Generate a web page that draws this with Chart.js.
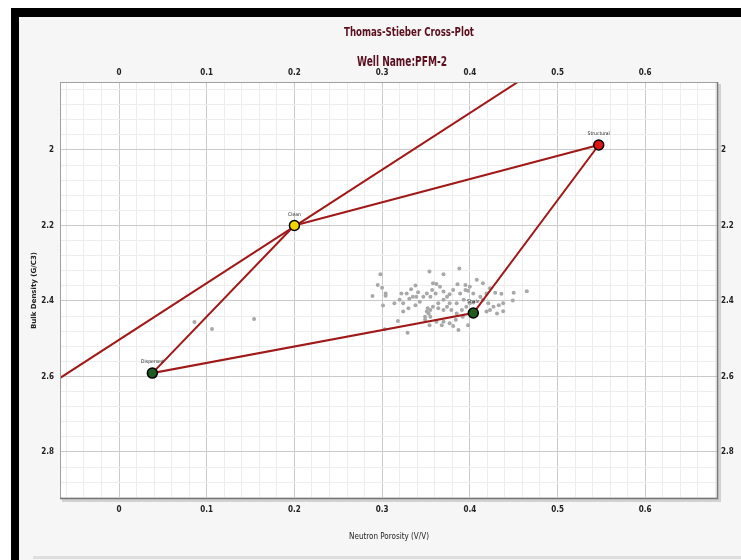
<!DOCTYPE html>
<html>
<head>
<meta charset="utf-8">
<script src="https://cdn.jsdelivr.net/npm/chart.js@4.4.1/dist/chart.umd.min.js"></script>
<style>
  html,body{margin:0;padding:0;background:#fff;}
  #wrap{width:741px;height:560px;position:relative;}
</style>
</head>
<body>
<div id="wrap"><canvas id="c" width="741" height="560"></canvas></div>
<script>
// ---------- data ----------
const xTickLabels = [0, 0.1, 0.2, 0.3, 0.4, 0.5, 0.6];
const yTickLabels = [2, 2.2, 2.4, 2.6, 2.8];

const endpointNames    = ['Clean', 'Structural', 'Shale', 'Dispersed'];
const endpointPorosity = [0.200, 0.547, 0.404, 0.038];
const endpointDensity  = [2.200, 1.987, 2.432, 2.591];
const endpointColors   = ['#f2d400', '#e01414', '#1f5a1f', '#1f5a1f'];

const sandLinePorosity = [-0.100, 0.500];
const sandLineDensity  = [2.653, 1.752];

const samplePorosity = [
  0.298,0.354,0.370,0.388,0.408,0.415,0.295,0.300,0.304,0.304,
  0.289,0.301,0.314,0.324,0.322,0.328,0.333,0.338,0.339,0.341,
  0.335,0.331,0.324,0.318,0.329,0.303,0.358,0.362,0.357,0.351,
  0.355,0.361,0.366,0.370,0.374,0.377,0.381,0.386,0.389,0.395,
  0.398,0.393,0.385,0.377,0.370,0.364,0.358,0.355,0.351,0.349,
  0.355,0.364,0.370,0.374,0.379,0.385,0.391,0.396,0.400,0.404,
  0.392,0.384,0.377,0.370,0.362,0.354,0.368,0.381,0.387,0.398,
  0.419,0.423,0.429,0.436,0.450,0.465,0.449,0.438,0.433,0.427,
  0.423,0.419,0.431,0.438,0.421,0.415,0.412,0.404,0.400,0.395,
  0.352,0.353,0.349,0.320,0.330,0.338,0.343,0.347,
  0.086,0.106,0.154
];
const sampleDensity = [
  2.329,2.322,2.329,2.314,2.344,2.353,2.358,2.365,2.380,2.386,
  2.387,2.412,2.406,2.406,2.380,2.380,2.369,2.359,2.389,2.377,
  2.389,2.394,2.428,2.453,2.484,2.475,2.353,2.355,2.371,2.380,
  2.389,2.380,2.362,2.375,2.389,2.382,2.371,2.356,2.380,2.371,
  2.373,2.397,2.406,2.406,2.397,2.406,2.415,2.424,2.428,2.442,
  2.442,2.419,2.424,2.415,2.424,2.433,2.424,2.415,2.406,2.404,
  2.442,2.450,2.459,2.455,2.455,2.464,2.464,2.466,2.477,2.464,
  2.380,2.366,2.378,2.381,2.378,2.374,2.399,2.406,2.411,2.415,
  2.424,2.428,2.433,2.427,2.406,2.397,2.389,2.380,2.362,2.358,
  2.419,2.433,2.450,2.397,2.419,2.411,2.402,2.389,
  2.456,2.474,2.448
];

const titleText = 'Thomas-Stieber Cross-Plot';
const subtitleText = 'Well Name:PFM-2';
const xTitle = 'Neutron Porosity (V/V)';
const yTitle = 'Bulk Density (G/C3)';

// ---------- helpers ----------
const X_MIN = -0.0673, X_MAX = 0.683;
const Y_MIN = 1.820,  Y_MAX = 2.9245;
const tickFont = { family: "'Liberation Sans Narrow','DejaVu Sans Condensed',sans-serif", size: 8, weight: 'bold' };
const near = (a, b) => Math.abs(a - b) < 1e-6;
const isMajorX = v => xTickLabels.some(t => near(t, v));
const isMajorY = v => yTickLabels.some(t => near(t, v));
function gridValues(min, max, perUnit) {
  const out = [];
  for (let k = Math.ceil(min * perUnit); k <= Math.floor(max * perUnit); k++) out.push({ value: k / perUnit });
  return out;
}
const fmt = v => String(Math.round(v * 1000) / 1000);

function fitText(ctx, text, cx, cy, font, width) {
  ctx.save();
  ctx.font = font;
  const w = ctx.measureText(text).width;
  const s = Math.min(1, width / w);
  ctx.translate(cx, cy);
  ctx.scale(s, 1);
  ctx.fillText(text, 0, 0);
  ctx.restore();
}

const samples = samplePorosity.map((p, i) => ({ x: p, y: sampleDensity[i] }));
const polyIdx = [0, 1, 2, 3, 0];
const polygon = polyIdx.map(i => ({ x: endpointPorosity[i], y: endpointDensity[i] }));
const sandLine = sandLinePorosity.map((p, i) => ({ x: p, y: sandLineDensity[i] }));
const endpoints = endpointPorosity.map((p, i) => ({ x: p, y: endpointDensity[i] }));

// ---------- plugin for frame, titles, labels ----------
const decor = {
  id: 'decor',
  beforeDraw(chart) {
    const ctx = chart.ctx, a = chart.chartArea;
    ctx.save();
    ctx.fillStyle = '#ffffff'; ctx.fillRect(0, 0, 741, 560);
    ctx.fillStyle = '#f6f6f6'; ctx.fillRect(19, 17, 722, 543);
    ctx.fillStyle = '#000000'; ctx.fillRect(11, 8, 730, 9); ctx.fillRect(11, 8, 8, 552);
    ctx.fillStyle = '#dedede'; ctx.fillRect(33, 556, 708, 3);
    ctx.fillStyle = '#d2d2d2'; ctx.fillRect(a.left + 2, a.top + 2, a.width + 1, a.height + 1);
    ctx.fillStyle = '#ffffff'; ctx.fillRect(a.left, a.top, a.width, a.height);
    ctx.restore();
  },
  afterDatasetsDraw(chart) {
    const ctx = chart.ctx, xs = chart.scales.x, ys = chart.scales.y;
    ctx.save();
    ctx.font = "5px 'DejaVu Sans Condensed',sans-serif";
    ctx.fillStyle = '#222';
    ctx.textAlign = 'center';
    ctx.textBaseline = 'middle';
    endpointNames.forEach((n, i) => {
      ctx.fillText(n, xs.getPixelForValue(endpointPorosity[i]), ys.getPixelForValue(endpointDensity[i]) - 11);
    });
    ctx.restore();
  },
  afterDraw(chart) {
    const ctx = chart.ctx, a = chart.chartArea;
    ctx.save();
    // plot border
    ctx.strokeStyle = '#a0a0a0'; ctx.lineWidth = 1;
    ctx.strokeRect(a.left + 0.5, a.top + 0.5, a.width - 1, a.height - 1);
    ctx.strokeStyle = '#777'; ctx.lineWidth = 1.5;
    ctx.beginPath(); ctx.moveTo(a.right - 0.5, a.top); ctx.lineTo(a.right - 0.5, a.bottom - 0.5); ctx.lineTo(a.left, a.bottom - 0.5); ctx.stroke();
    // titles
    ctx.fillStyle = '#5a0f1f'; ctx.textAlign = 'center'; ctx.textBaseline = 'middle';
    fitText(ctx, titleText, 409, 33, "bold 13px 'DejaVu Sans Condensed',sans-serif", 130);
    fitText(ctx, subtitleText, 402, 62, "bold 14px 'DejaVu Sans Condensed',sans-serif", 90);
    // axis titles
    ctx.fillStyle = '#222';
    ctx.font = "8px 'Liberation Sans Narrow','DejaVu Sans Condensed',sans-serif";
    ctx.fillText(xTitle, (a.left + a.right) / 2, 537);
    ctx.translate(34, (a.top + a.bottom) / 2); ctx.rotate(-Math.PI / 2);
    ctx.font = "bold 7px 'DejaVu Sans',sans-serif";
    ctx.fillText(yTitle, 0, 0);
    ctx.restore();
  }
};

Chart.defaults.font.family = "'Liberation Sans Narrow','DejaVu Sans Condensed',sans-serif";

new Chart(document.getElementById('c'), {
  type: 'scatter',
  data: {
    datasets: [
      { label: 'Endpoints', data: endpoints, order: 0, pointRadius: 5, pointHoverRadius: 5,
        pointBackgroundColor: endpointColors, pointBorderColor: '#000', pointBorderWidth: 1.5, showLine: false },
      { label: 'Model', data: polygon, order: 1, showLine: true, borderColor: '#a01818', borderWidth: 2,
        pointRadius: 0, fill: false, tension: 0 },
      { label: 'Sand line', data: sandLine, order: 2, showLine: true, borderColor: '#a01818', borderWidth: 2,
        pointRadius: 0, fill: false, tension: 0 },
      { label: 'Samples', data: samples, order: 3, pointRadius: 2, pointHoverRadius: 2,
        pointBackgroundColor: '#a8a8a8', pointBorderWidth: 0, showLine: false }
    ]
  },
  options: {
    responsive: false,
    devicePixelRatio: 1,
    animation: false,
    layout: { padding: { left: 20, right: 3, top: 62, bottom: 35 } },
    plugins: { legend: { display: false }, tooltip: { enabled: false }, title: { display: false } },
    scales: {
      x: {
        type: 'linear', position: 'bottom', min: X_MIN, max: X_MAX,
        afterBuildTicks: s => { s.ticks = gridValues(X_MIN, X_MAX, 50); },
        afterFit: s => { s.height = 26; },
        ticks: { autoSkip: false, maxRotation: 0, padding: 6, font: tickFont, color: '#222',
          callback: v => isMajorX(v) ? fmt(v) : '' },
        grid: { drawTicks: false, lineWidth: 1, color: c => isMajorX(c.tick.value) ? '#cacaca' : '#ededed' },
        border: { display: false }
      },
      x2: {
        type: 'linear', position: 'top', min: X_MIN, max: X_MAX,
        afterBuildTicks: s => { s.ticks = xTickLabels.map(v => ({ value: v })); },
        afterFit: s => { s.height = 20; },
        ticks: { autoSkip: false, maxRotation: 0, padding: 4, font: tickFont, color: '#222', callback: v => fmt(v) },
        grid: { display: false, drawTicks: false },
        border: { display: false }
      },
      y: {
        type: 'linear', position: 'left', reverse: true, min: Y_MIN, max: Y_MAX,
        afterBuildTicks: s => { s.ticks = gridValues(Y_MIN, Y_MAX, 25); },
        afterFit: s => { s.width = 40; },
        ticks: { autoSkip: false, padding: 6, font: tickFont, color: '#222',
          callback: v => isMajorY(v) ? fmt(v) : '' },
        grid: { drawTicks: false, lineWidth: 1, color: c => isMajorY(c.tick.value) ? '#cacaca' : '#ededed' },
        border: { display: false }
      },
      y2: {
        type: 'linear', position: 'right', reverse: true, min: Y_MIN, max: Y_MAX,
        afterBuildTicks: s => { s.ticks = yTickLabels.map(v => ({ value: v })); },
        afterFit: s => { s.width = 20; },
        ticks: { autoSkip: false, padding: 3, font: tickFont, color: '#222', callback: v => fmt(v) },
        grid: { display: false, drawTicks: false },
        border: { display: false }
      }
    }
  },
  plugins: [decor]
});
</script>
</body>
</html>
